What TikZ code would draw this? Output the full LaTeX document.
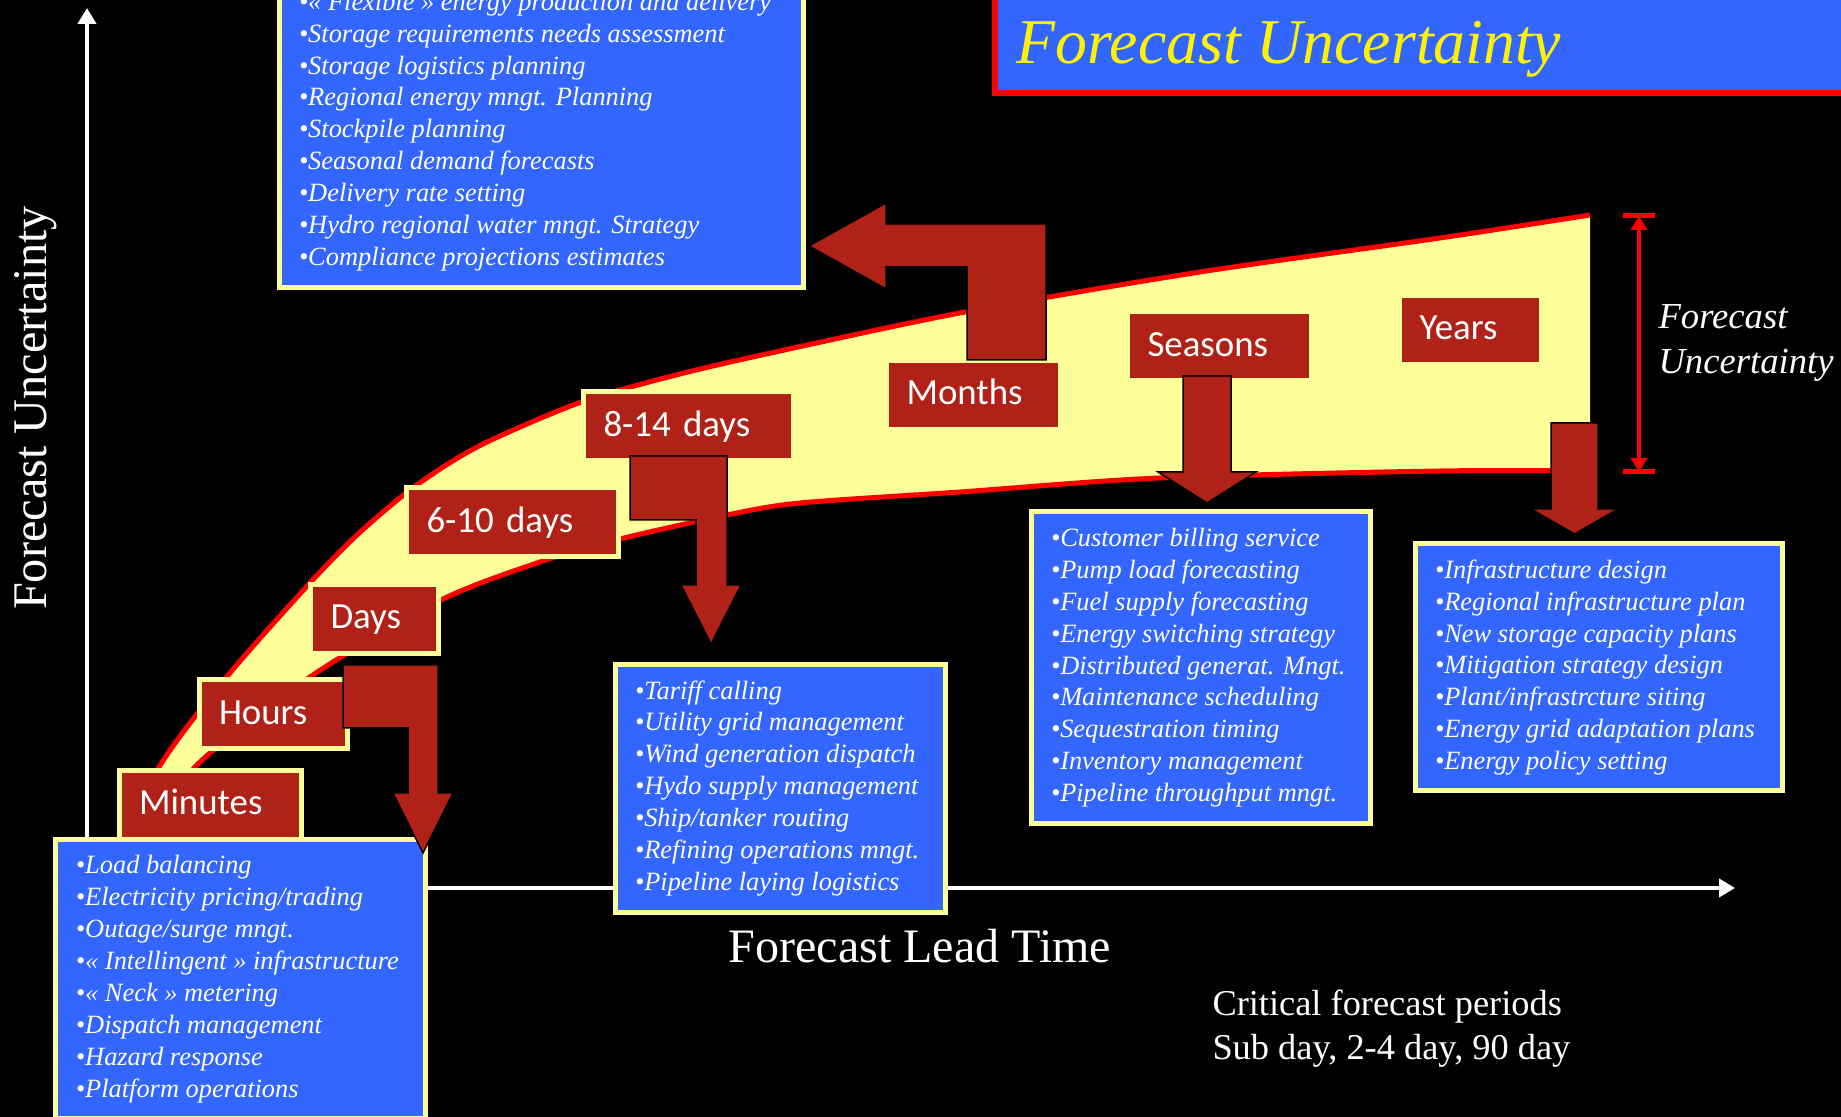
\documentclass[tikz,border=0pt]{standalone}
\usepackage{fontspec}
\setmainfont{Liberation Serif}
\newfontfamily\lblfont{Carlito}
\usepackage{tikz}
\usetikzlibrary{arrows.meta,calc}

\begin{document}
\begin{tikzpicture}[line join=miter,
  lbl/.style={draw=bandyel, line width=5bp, fill=lblred, text=white, align=left,
    font=\lblfont\fontsize{37}{44}\selectfont, inner xsep=20bp, inner ysep=0bp,
    text height=24bp, text depth=4bp, minimum height=69bp},
  listbox/.style={draw=bandyel, line width=5bp, fill=boxblue, inner sep=0bp},
  listtext/.style={text=white, align=left, anchor=west, inner sep=0bp,
    font=\fontsize{26.5}{32}\selectfont\itshape},
  bigarrow/.style={fill=lblred, draw=black, line width=1.5bp},
  axisline/.style={white, line width=4bp, -{Triangle[width=18bp,length=16bp]}},
  bandline/.style={bandred, line width=5bp},
  plaintext/.style={text=white, inner sep=0bp}]
  \pgfsetlinewidth{1bp}
%%
\definecolor{bandyel}{rgb}{1.0,1.0,0.6}
\definecolor{boxblue}{rgb}{0.2,0.4,1.0}
\definecolor{lblred}{rgb}{0.69,0.13,0.09}
\definecolor{bandred}{rgb}{1.0,0.0,0.0}
  \fill[black] (0bp,0bp) rectangle (1841bp,1117bp);
  \useasboundingbox (0bp,0bp) rectangle (1841bp,1117bp);
  % Axes
  \coordinate (origin) at (87bp,229bp);
  \coordinate (ytip) at (87bp,1109bp);
  \coordinate (xtip) at (1735bp,229bp);
  \draw[axisline] (origin) -- (ytip);
  \draw[axisline] (origin) -- (xtip);
  % Band
  \fill[bandyel] plot[smooth] coordinates {(130bp,272bp) (158bp,348bp) (225bp,438bp) (309bp,533bp) (356bp,581bp) (404bp,622.3bp) (448bp,653.1bp) (493bp,677.8bp) (582bp,715.2bp) (676bp,742bp) (780bp,766bp) (965bp,805bp) (1200bp,845bp) (1440bp,879bp) (1590bp,902bp)}
    -- plot[smooth] coordinates {(1590bp,646bp) (1440bp,646bp) (1159bp,639bp) (960bp,625bp) (800bp,614bp) (727bp,602bp) (620bp,578bp) (546bp,557bp) (441bp,517bp) (310bp,440bp) (194bp,349bp) (150bp,272bp)} -- cycle;
  \draw[bandline] plot[smooth] coordinates {(130bp,272bp) (158bp,348bp) (225bp,438bp) (309bp,533bp) (356bp,581bp) (404bp,622.3bp) (448bp,653.1bp) (493bp,677.8bp) (582bp,715.2bp) (676bp,742bp) (780bp,766bp) (965bp,805bp) (1200bp,845bp) (1440bp,879bp) (1590bp,902bp)};
  \draw[bandline] plot[smooth] coordinates {(1590bp,646bp) (1440bp,646bp) (1159bp,639bp) (960bp,625bp) (800bp,614bp) (727bp,602bp) (620bp,578bp) (546bp,557bp) (441bp,517bp) (310bp,440bp) (194bp,349bp) (150bp,272bp)};
  % Node: minutes
  \node[lbl, text width=142bp] (minutes) at (210bp,312bp) {Minutes};
  % Node: hours
  \node[lbl, text width=108bp] (hours) at (273bp,402.7bp) {Hours};
  % Node: days
  \node[lbl, text width=88bp] (days) at (374.5bp,498bp) {Days};
  % Node: days610
  \node[lbl, text width=172bp] (days610) at (512.5bp,594.5bp) {6-10 days};
  % Node: days814
  \node[lbl, text width=170bp] (days814) at (688.5bp,690.5bp) {8-14 days};
  % Node: months
  \node[lbl, text width=134bp] (months) at (973.5bp,722bp) {Months};
  % Node: seasons
  \node[lbl, text width=144bp] (seasons) at (1219.5bp,770.5bp) {Seasons};
  % Node: years
  \node[lbl, text width=102bp] (years) at (1470.5bp,787bp) {Years};
  % Node: tlbox
\begin{scope}
  \node[listbox, minimum width=524bp, minimum height=313bp] (tlbox) at (541bp,985.5bp) {};
  \node[listtext] (tltext) at ([xshift=22bp]tlbox.west) {%
    •« Flexible » energy production and delivery\\
    •Storage requirements needs assessment\\
    •Storage logistics planning\\
    •Regional energy mngt. Planning\\
    •Stockpile planning\\
    •Seasonal demand forecasts\\
    •Delivery rate setting\\
    •Hydro regional water mngt. Strategy\\
    •Compliance projections estimates};
\end{scope}
  % Node: blbox
\begin{scope}
  \node[listbox, minimum width=369.5bp, minimum height=279.4bp] (blbox) at (240.7bp,137.8bp) {};
  \node[listtext] (bltext) at ([xshift=22bp]blbox.west) {%
    •Load balancing\\
    •Electricity pricing/trading\\
    •Outage/surge mngt.\\
    •« Intellingent » infrastructure\\
    •« Neck » metering\\
    •Dispatch management\\
    •Hazard response\\
    •Platform operations};
\end{scope}
  % Node: mbbox
\begin{scope}
  \node[listbox, minimum width=330.5bp, minimum height=248.5bp] (mbbox) at (780.3bp,328.7bp) {};
  \node[listtext] (mbtext) at ([xshift=22bp]mbbox.west) {%
    •Tariff calling\\
    •Utility grid management\\
    •Wind generation dispatch\\
    •Hydo supply management\\
    •Ship/tanker routing\\
    •Refining operations mngt.\\
    •Pipeline laying logistics};
\end{scope}
  % Node: sbbox
\begin{scope}
  \node[listbox, minimum width=339bp, minimum height=311.5bp] (sbbox) at (1200.5bp,449.3bp) {};
  \node[listtext] (sbtext) at ([xshift=22bp]sbbox.west) {%
    •Customer billing service\\
    •Pump load forecasting\\
    •Fuel supply forecasting\\
    •Energy switching strategy\\
    •Distributed generat. Mngt.\\
    •Maintenance scheduling\\
    •Sequestration timing\\
    •Inventory management\\
    •Pipeline throughput mngt.};
\end{scope}
  % Node: ybbox
\begin{scope}
  \node[listbox, minimum width=367.5bp, minimum height=247bp] (ybbox) at (1598.8bp,449.5bp) {};
  \node[listtext] (ybtext) at ([xshift=22bp]ybbox.west) {%
    •Infrastructure design\\
    •Regional infrastructure plan\\
    •New storage capacity plans\\
    •Mitigation strategy design\\
    •Plant/infrastrcture siting\\
    •Energy grid adaptation plans\\
    •Energy policy setting};
\end{scope}
  % Edge: hours -> blbox
  \draw[bigarrow] (343bp,452bp) -- (438bp,452bp) -- (438bp,324bp) -- (453bp,324bp) -- (423bp,264bp) -- (393bp,324bp) -- (408bp,324bp) -- (408bp,389bp) -- (343bp,389bp) -- cycle;
  % Edge: days814 -> mbbox
  \draw[bigarrow] (630bp,661bp) -- (727bp,661bp) -- (727bp,532bp) -- (741bp,532bp) -- (711bp,473bp) -- (681bp,532bp) -- (696bp,532bp) -- (696bp,597bp) -- (630bp,597bp) -- cycle;
  % Edge: months -> tlbox
  \draw[bigarrow] (967bp,757bp) -- (1046bp,757bp) -- (1046bp,893bp) -- (886bp,893bp) -- (886bp,914bp) -- (809bp,871bp) -- (886bp,828bp) -- (886bp,850bp) -- (967bp,850bp) -- cycle;
  % Edge: seasons -> sbbox
  \draw[bigarrow] (1183bp,741bp) -- (1231bp,741bp) -- (1231bp,645bp) -- (1256bp,645bp) -- (1207bp,614bp) -- (1158bp,645bp) -- (1183bp,645bp) -- cycle;
  % Edge: years -> ybbox
  \draw[bigarrow] (1551bp,694bp) -- (1598bp,694bp) -- (1598bp,608bp) -- (1618bp,608bp) -- (1574.5bp,583bp) -- (1531bp,608bp) -- (1551bp,608bp) -- cycle;
  % Node: title
  \node[draw=bandred, line width=6bp, fill=boxblue, inner sep=0bp, minimum width=865bp, minimum height=113.5bp] (titlebox) at (1427.5bp,1080.25bp) {};
  \node[plaintext, anchor=base west, text=yellow, font=\fontsize{64}{72}\selectfont\itshape] (title) at (1016bp,1053bp) {Forecast Uncertainty};
  % Node: axis labels
  \node[plaintext, rotate=90, font=\fontsize{48.5}{58}\selectfont] (ylabel) at (36bp,709bp) {Forecast Uncertainty};
  \node[plaintext, font=\fontsize{48.2}{58}\selectfont] (xlabel) at (920bp,171bp) {Forecast Lead Time};
  % Edge: uncertainty span
  \coordinate (utop) at (1639bp,901bp);
  \coordinate (ubot) at (1639bp,645bp);
  \draw[bandred, line width=4bp, {Triangle[width=16bp,length=14bp]}-{Triangle[width=16bp,length=14bp]}] (utop) -- (ubot);
  \draw[bandred, line width=5bp] ([xshift=-16bp]utop) -- ([xshift=16bp]utop);
  \draw[bandred, line width=5bp] ([xshift=-16bp]ubot) -- ([xshift=16bp]ubot);
  \node[plaintext, anchor=base west, font=\fontsize{36.8}{45}\selectfont\itshape] (fu1) at (1658bp,788.7bp) {Forecast};
  \node[plaintext, anchor=base west, font=\fontsize{36.8}{45}\selectfont\itshape] (fu2) at (1658bp,743.7bp) {Uncertainty};
  % Node: critical periods
  \node[plaintext, anchor=base west, font=\fontsize{36.5}{44}\selectfont] (crit1) at (1212bp,101bp) {Critical forecast periods};
  \node[plaintext, anchor=base west, font=\fontsize{36.5}{44}\selectfont] (crit2) at (1212bp,57bp) {Sub day, 2-4 day, 90 day};
%
\end{tikzpicture}
\end{document}
